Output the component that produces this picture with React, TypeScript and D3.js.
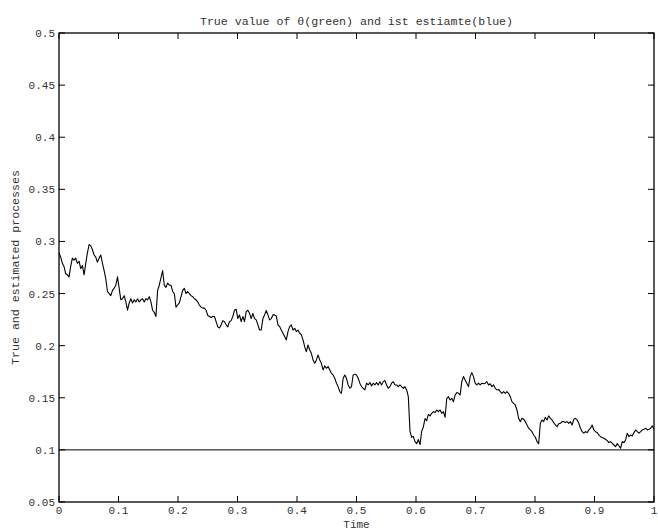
import React from 'react';
import * as d3 from 'd3';

// estimated process in pieces (uniform time grid 0..1)
const estimateA = [
  0.289, 0.285, 0.279, 0.276, 0.269, 0.268, 0.266, 0.276, 0.284, 0.282,
  0.284, 0.279, 0.281, 0.274, 0.277, 0.268, 0.279, 0.289, 0.297, 0.296,
  0.292, 0.287, 0.285, 0.28, 0.284, 0.287, 0.279, 0.272, 0.264, 0.252,
  0.25, 0.248, 0.253, 0.255, 0.258, 0.266, 0.255, 0.244, 0.245, 0.248,
  0.242, 0.234, 0.241, 0.245, 0.241, 0.244, 0.242, 0.245, 0.242, 0.244,
  0.245, 0.242, 0.245, 0.244, 0.247, 0.242, 0.234, 0.232, 0.228, 0.253,
  0.258, 0.265, 0.272, 0.258, 0.256, 0.26, 0.258, 0.258, 0.252, 0.25,
  0.237, 0.239, 0.241, 0.247, 0.253, 0.255, 0.25, 0.252, 0.25, 0.248,
  0.247, 0.245, 0.244, 0.242, 0.239, 0.237, 0.236, 0.236, 0.234, 0.229,
  0.228, 0.227, 0.228, 0.228, 0.223, 0.218, 0.217, 0.22, 0.224, 0.223,
  0.22, 0.218, 0.223, 0.224, 0.228, 0.234, 0.235, 0.226,
];
const estimateB = [
  0.2295, 0.223, 0.228, 0.223, 0.2327, 0.234, 0.231, 0.226, 0.231, 0.226,
  0.2247, 0.22, 0.215, 0.215, 0.226, 0.2295, 0.2337, 0.2295, 0.2247, 0.226,
  0.2295, 0.2295, 0.2285, 0.22, 0.2183, 0.215, 0.212, 0.2087, 0.2055, 0.2135,
  0.2183, 0.22, 0.215, 0.2167, 0.2135, 0.215, 0.212, 0.2103, 0.2055, 0.199,
  0.1943, 0.2007, 0.1958, 0.1927, 0.1863, 0.1831, 0.1863, 0.1911, 0.1863, 0.1831,
  0.1767, 0.1806, 0.1783, 0.18, 0.1767, 0.1735, 0.1719, 0.1687, 0.164, 0.1607,
  0.1559, 0.1543, 0.1687, 0.1719, 0.1687, 0.1623, 0.1591, 0.1607, 0.1719, 0.1727,
  0.1719, 0.1687, 0.164, 0.1607, 0.1591, 0.1575, 0.164, 0.1623, 0.1646, 0.1614,
  0.164, 0.1623, 0.1646, 0.1623, 0.1655, 0.1623, 0.1655, 0.1665, 0.1623, 0.1591,
  0.1607, 0.164, 0.1655, 0.1623, 0.1623, 0.1607, 0.1623, 0.1607, 0.1591, 0.1607,
  0.1575, 0.1511,
];
const estimateC = [
  0.118, 0.112, 0.113, 0.108, 0.106, 0.11, 0.105, 0.118, 0.122, 0.13,
  0.128, 0.134,
];
const estimateD = [
  0.1326, 0.1351, 0.1367, 0.1358, 0.1383, 0.1367, 0.1383, 0.1351, 0.1367, 0.1313,
  0.1495, 0.1511, 0.1479, 0.1495, 0.1463, 0.1527, 0.155, 0.1543, 0.1527, 0.1655,
  0.1703, 0.1671, 0.164, 0.1607, 0.1703, 0.1741, 0.1703, 0.164, 0.1623, 0.164,
  0.1623, 0.164, 0.1634, 0.164, 0.1655, 0.1623, 0.1634, 0.1607, 0.1623, 0.1591,
  0.1575, 0.158, 0.1559, 0.1543, 0.1559, 0.1543, 0.1559, 0.1543, 0.1511, 0.1463,
  0.1447, 0.1431, 0.1383, 0.1303, 0.1271, 0.1303, 0.1295, 0.1271, 0.1239, 0.1208,
  0.1191, 0.1175, 0.1143, 0.1121, 0.108, 0.106, 0.1255, 0.1287, 0.1271, 0.1313,
  0.1287, 0.1326, 0.1303, 0.1287, 0.1262, 0.1239, 0.1223, 0.125, 0.1255, 0.1271,
  0.1271, 0.1262, 0.1271, 0.1255, 0.1271, 0.1239, 0.1295, 0.1303, 0.1287, 0.1255,
  0.1208, 0.1175, 0.116, 0.1175, 0.1166, 0.1191, 0.1208, 0.1239, 0.1191, 0.1175,
  0.1166, 0.1143,
];
const estimateE = [
  0.1127, 0.112, 0.1111, 0.1102, 0.1089, 0.107, 0.1079, 0.1063, 0.1047, 0.1031,
  0.106, 0.104, 0.1015, 0.1079, 0.107, 0.1095, 0.116, 0.1127, 0.1143, 0.1134,
  0.1166, 0.1191, 0.1175, 0.116, 0.1175, 0.1191, 0.1197, 0.1208, 0.1191, 0.1197,
  0.1208, 0.123, 0.1197,
];
const estimate = [...estimateA, ...estimateB, ...estimateC, ...estimateD, ...estimateE];

// true theta
const trueTimes = [0, 1];
const trueValues = [0.1, 0.1];

const xTicks = [0, 0.1, 0.2, 0.3, 0.4, 0.5, 0.6, 0.7, 0.8, 0.9, 1];
const yTicks = [0.05, 0.1, 0.15, 0.2, 0.25, 0.3, 0.35, 0.4, 0.45, 0.5];

const W = 658;
const H = 530;
const left = 59, right = 654, top = 33, bottom = 502;
const font = '"Courier New", "Liberation Mono", monospace';

export default function App() {
  const x = d3.scaleLinear().domain([0, 1]).range([left, right]);
  const y = d3.scaleLinear().domain([0.05, 0.5]).range([bottom, top]);
  const n = estimate.length;
  const estPts: [number, number][] = estimate.map((v, i) => [i / (n - 1), v]);
  const truePts: [number, number][] = trueTimes.map((t, i) => [t, trueValues[i]]);
  const line = d3.line<[number, number]>().x(d => x(d[0])).y(d => y(d[1]));
  const tl = 6;

  return (
    <svg width={W} height={H} style={{ position: 'absolute', left: 0, top: 0, background: '#fff' }}>
      <rect x={0} y={0} width={W} height={H} fill="#fff" />
      <path d={line(truePts) || ''} fill="none" stroke="#000" strokeWidth={1} />
      <path d={line(estPts) || ''} fill="none" stroke="#000" strokeWidth={1.1} strokeLinejoin="round" />
      <rect x={left} y={top} width={right - left} height={bottom - top} fill="none" stroke="#000" strokeWidth={1.3} />
      {xTicks.map(t => (
        <g key={'x' + t}>
          <line x1={x(t)} x2={x(t)} y1={bottom} y2={bottom - tl} stroke="#000" />
          <line x1={x(t)} x2={x(t)} y1={top} y2={top + tl} stroke="#000" />
          <text x={x(t)} y={514} textAnchor="middle" fontFamily={font} fontSize={11} fill="#333">{String(t)}</text>
        </g>
      ))}
      {yTicks.map(v => (
        <g key={'y' + v}>
          <line x1={left} x2={left + tl} y1={y(v)} y2={y(v)} stroke="#000" />
          <line x1={right} x2={right - tl} y1={y(v)} y2={y(v)} stroke="#000" />
          <text x={left - 4} y={y(v) + 4} textAnchor="end" fontFamily={font} fontSize={11} fill="#333">{String(v)}</text>
        </g>
      ))}
      <text x={(left + right) / 2} y={25} textAnchor="middle" fontFamily={font} fontSize={11.6} fill="#333">
        True value of θ(green) and ist estiamte(blue)
      </text>
      <text x={(left + right) / 2} y={528} textAnchor="middle" fontFamily={font} fontSize={11} fill="#333">Time</text>
      <text transform={`translate(19,${(top + bottom) / 2}) rotate(-90)`} textAnchor="middle" fontFamily={font} fontSize={11.6} fill="#333">
        True and estimated processes
      </text>
    </svg>
  );
}
